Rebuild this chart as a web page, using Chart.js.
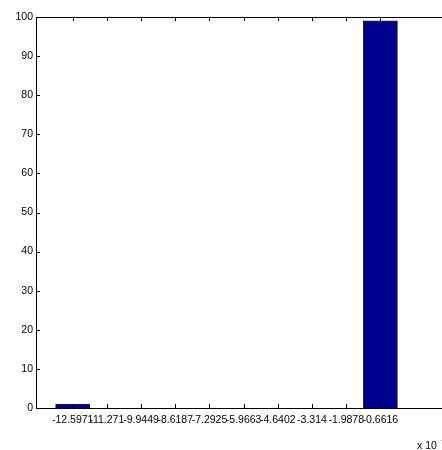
<!DOCTYPE html>
<html>
<head>
<meta charset="utf-8">
<script src="https://cdn.jsdelivr.net/npm/chart.js@4/dist/chart.umd.min.js"></script>
<style>
  html, body { margin: 0; padding: 0; background: #fff; overflow: hidden; }
  #wrap { width: 460px; height: 450px; }
</style>
</head>
<body>
<div id="wrap"><canvas id="grafico"></canvas></div>
<script>
// bin centres (in units of the x 10^n multiplier) and counts per bin
const binCenters = [-12.5971, -11.2709, -9.9449, -8.6187, -7.2925, -5.9663, -4.6402, -3.3140, -1.9878, -0.6616];
const counts = [1, 0, 0, 0, 0, 0, 0, 0, 0, 99];
const tickLabels = ['-12.5971', '-11.271', '-9.9449', '-8.6187', '-7.2925', '-5.9663', '-4.6402', '-3.314', '-1.9878', '-0.6616'];
const yTicks = [0, 10, 20, 30, 40, 50, 60, 70, 80, 90, 100];

const fonte = { family: '"Liberation Sans", Arial, sans-serif', size: 10.5 };

// box round the plot and inward tick marks, matlab style
const caixa = {
  id: 'caixa',
  afterDraw(chart) {
    const { ctx, chartArea: a, scales } = chart;
    ctx.save();
    ctx.strokeStyle = '#000';
    ctx.lineWidth = 1;
    ctx.beginPath();
    binCenters.forEach(v => {
      const x = Math.round(scales.x.getPixelForValue(v)) + 0.5;
      ctx.moveTo(x, a.bottom); ctx.lineTo(x, a.bottom - 4);
      ctx.moveTo(x, a.top); ctx.lineTo(x, a.top + 4);
    });
    yTicks.forEach(v => {
      const y = Math.round(scales.y.getPixelForValue(v)) + 0.5;
      ctx.moveTo(a.left, y); ctx.lineTo(a.left + 4, y);
      ctx.moveTo(a.right, y); ctx.lineTo(a.right - 4, y);
    });
    ctx.stroke();
    ctx.strokeRect(Math.round(a.left) + 0.5, Math.round(a.top) + 0.5, Math.round(a.right - a.left), Math.round(a.bottom - a.top));
    // multiplier text bottom right
    ctx.fillStyle = '#000';
    ctx.font = '10.5px "Liberation Sans", Arial, sans-serif';
    ctx.textBaseline = 'alphabetic';
    ctx.fillText('x 10', 417, 449);
    ctx.font = '8px "Liberation Sans", Arial, sans-serif';
    ctx.fillText('-3', 441, 442);
    ctx.restore();
  }
};

const ctx = document.getElementById('grafico').getContext('2d');
new Chart(ctx, {
  type: 'bar',
  data: {
    datasets: [{
      data: binCenters.map((c, i) => ({ x: c, y: counts[i] })),
      backgroundColor: '#00008F',
      borderColor: '#222',
      borderWidth: 1,
      barPercentage: 1,
      categoryPercentage: 1
    }]
  },
  options: {
    responsive: true,
    maintainAspectRatio: false,
    animation: false,
    layout: { padding: { left: 0, right: 11, top: 17, bottom: 0 } },
    plugins: { legend: { display: false }, tooltip: { enabled: false } },
    scales: {
      x: {
        type: 'linear',
        offset: false,
        min: -14.02,
        max: 2,
        grid: { display: false, drawTicks: false, offset: false },
        border: { display: false },
        afterBuildTicks: s => { s.ticks = binCenters.map(v => ({ value: v })); },
        afterFit: s => { s.height = 42; },
        ticks: {
          autoSkip: false,
          maxRotation: 0,
          padding: 6,
          color: '#000',
          font: fonte,
          callback: (v, i) => tickLabels[i]
        }
      },
      y: {
        min: 0,
        max: 100,
        grid: { display: false, drawTicks: false },
        border: { display: false },
        afterBuildTicks: s => { s.ticks = yTicks.map(v => ({ value: v })); },
        afterFit: s => { s.width = 36; },
        ticks: { padding: 3, color: '#000', font: fonte }
      }
    }
  },
  plugins: [caixa]
});
</script>
</body>
</html>
